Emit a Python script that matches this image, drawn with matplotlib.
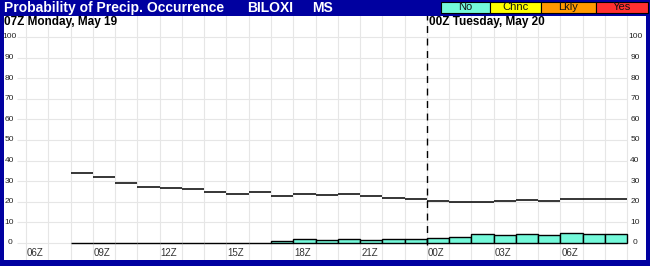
import matplotlib.pyplot as plt
import numpy as np

plt.rcParams['font.family'] = ['Liberation Sans', 'DejaVu Sans']

# hourly periods, hours counted from 00Z Monday (24 = 00Z Tuesday)
hours = list(range(8, 33))
upper_line = [34, 32, 29, 27, 26.5, 26, 25, 24, 24.6, 22.7, 23.6, 23.1, 23.6,
              22.7, 22, 21.2, 20.4, 19.8, 19.8, 20.2, 20.7, 20.2, 21.2, 21.2, 21.2]
pop_bars = [0, 0, 0, 0, 0, 0, 0, 0, 0, 1.1, 2.1, 1.6, 2.1, 1.6, 2.1, 2.1,
            2.6, 3.1, 4.4, 3.9, 4.4, 3.9, 4.9, 4.4, 4.4]

tick_hours = [6, 9, 12, 15, 18, 21, 24, 27, 30]
tick_labels = ["06Z", "09Z", "12Z", "15Z", "18Z", "21Z", "00Z", "03Z", "06Z"]
y_ticks = list(range(0, 101, 10))

legend_names = ["No", "Chnc", "Lkly", "Yes"]
legend_colors = ["#74F9DA", "#FFFF00", "#FF9900", "#FF3030"]
NAVY = "#0000A0"

W, H = 650, 266
fig = plt.figure(figsize=(W / 100, H / 100), dpi=100, facecolor=NAVY)


def px(x, y):
    return x / W, 1 - y / H


# plot area (white) in pixel box x 4..646, y 16..260
ax = fig.add_axes([4 / W, (H - 260) / H, 642 / W, 244 / H])
ax.set_facecolor("white")
hour_px = 22.27
ax.set_xlim(6 + (4 - 26) / hour_px, 6 + (646 - 26) / hour_px)
ax.set_ylim((243 - 260) / 2.06, (243 - 16) / 2.06)
for s in ax.spines.values():
    s.set_visible(False)
ax.set_xticks([])
ax.set_yticks([])

grid_c = "#E6E6E6"
for h in range(6, 34):
    ax.axvline(h, color=grid_c, lw=0.8, zorder=0)
for v in y_ticks:
    ax.hlines(v, 6 + (17 - 26) / hour_px, 33, color=grid_c, lw=0.8, zorder=0)

# y labels on both sides
for v in y_ticks:
    ax.text(6 + (9.5 - 26) / hour_px, v, str(v), ha="center", va="center",
            fontsize=6, color="#222222")
    ax.text(6 + (635 - 26) / hour_px, v, str(v), ha="center", va="center",
            fontsize=6, color="#222222")

# x labels
for h, lab in zip(tick_hours, tick_labels):
    ax.text(h + 0.05, -4.8, lab, ha="left", va="center", fontsize=7,
            color="#333333")

ax.bar(hours, pop_bars, width=1, align="edge", color=legend_colors[0],
       edgecolor="black", linewidth=1, zorder=3)
ax.hlines(upper_line, np.array(hours), np.array(hours) + 1, color="black",
          lw=1.1, zorder=4)

ax.vlines(24, (243 - 245) / 2.06, (243 - 15) / 2.06, colors="black", lw=1,
          linestyles=(0, (5, 4)), zorder=5)

# title bar
fig.text(*px(4, 8), "Probability of Precip. Occurrence", color="white",
         fontsize=10, fontweight="bold", va="center", ha="left")
fig.text(*px(247, 8), "BILOXI", color="white", fontsize=10,
         fontweight="bold", va="center", ha="left")
fig.text(*px(312, 8), "MS", color="white", fontsize=10,
         fontweight="bold", va="center", ha="left")

# legend boxes
edges = [441, 490, 541, 596, 648]
for i, (name, col) in enumerate(zip(legend_names, legend_colors)):
    x0, x1 = edges[i], edges[i + 1]
    fig.patches.append(plt.Rectangle(px(x0, 13), (x1 - x0) / W, 11 / H,
                                     transform=fig.transFigure,
                                     facecolor=col, edgecolor="black",
                                     lw=0.8))
    fig.text(*px((x0 + x1) / 2, 7.5), name, color="#111111", fontsize=8,
             ha="center", va="center")

# day headers
fig.text(*px(4, 21.5), "07Z Monday, May 19", fontsize=8.5, fontweight="bold",
         ha="left", va="center")
fig.text(*px(429, 21.5), "00Z Tuesday, May 20", fontsize=8.5,
         fontweight="bold", ha="left", va="center")

fig.savefig("out.png", dpi=100, facecolor=NAVY)
